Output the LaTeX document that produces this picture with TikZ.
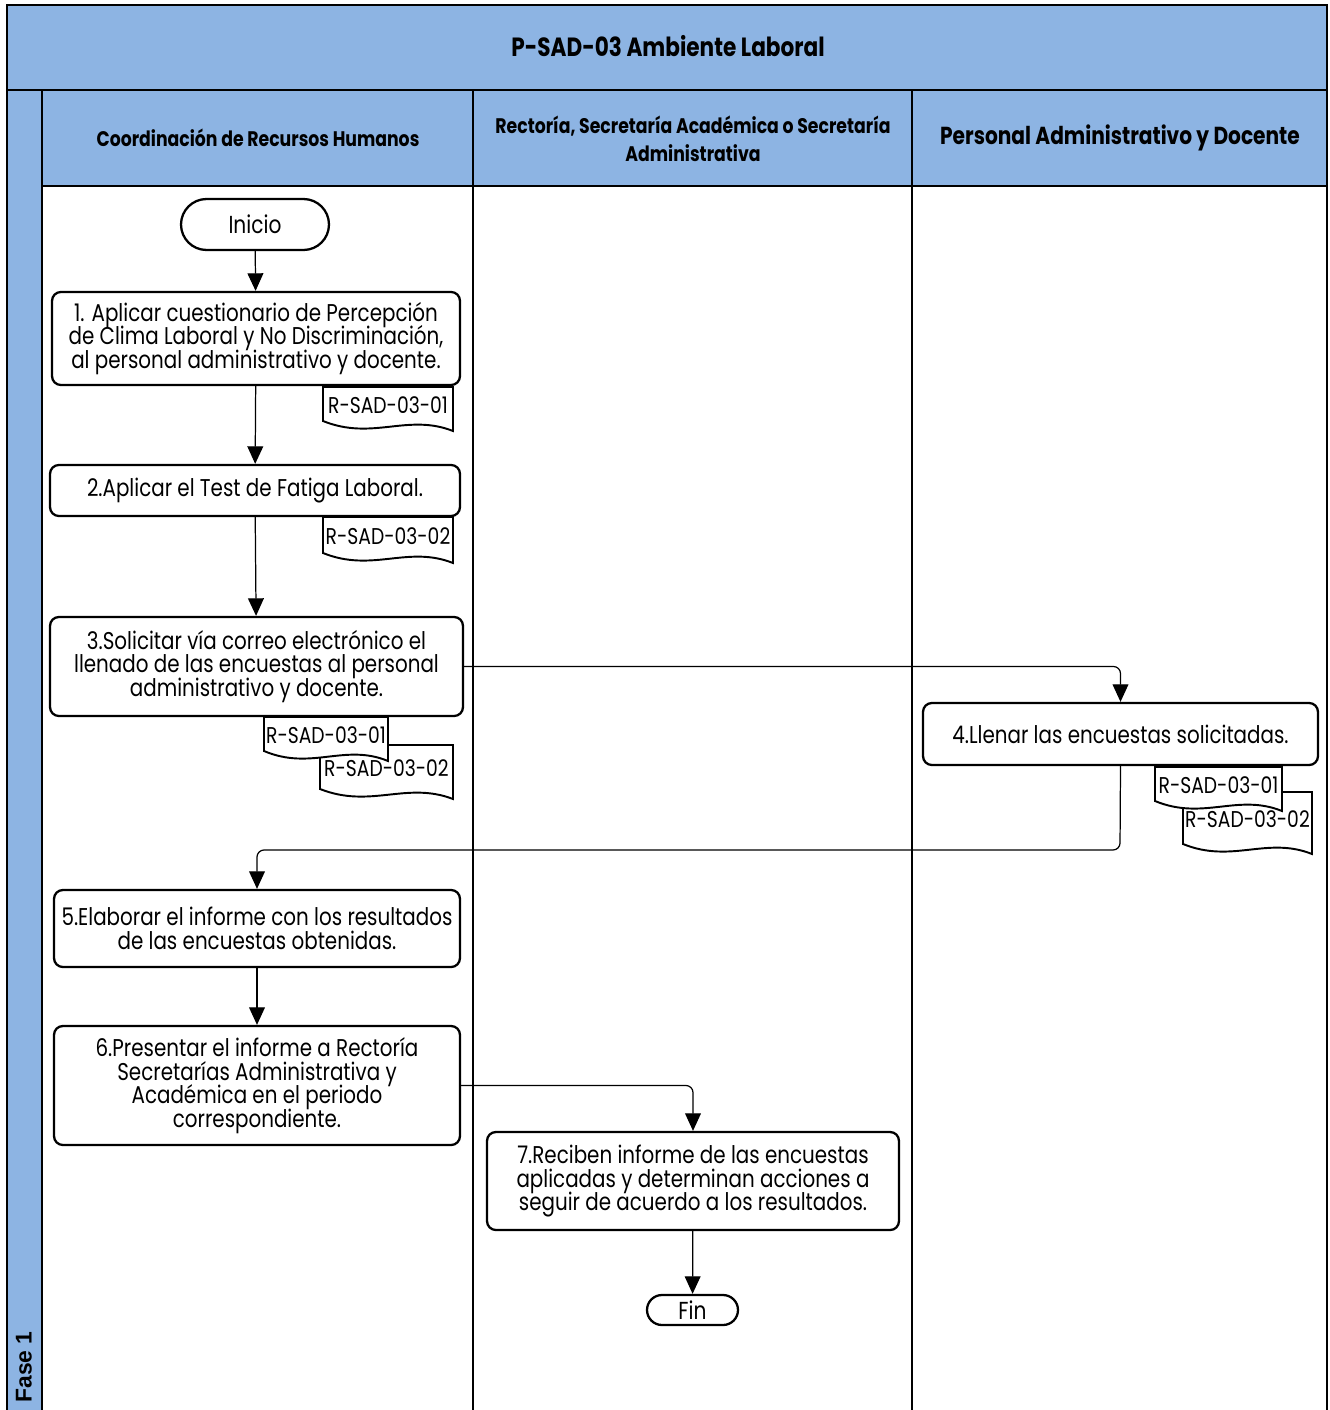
\documentclass[tikz,border=0pt]{standalone}
\usepackage{fontspec}
\setmainfont{Poppins}[FakeStretch=0.82]
\newfontfamily\fasefont{Liberation Sans}
\usetikzlibrary{arrows.meta}
\usetikzlibrary{shapes.misc}
\definecolor{lanehead}{RGB}{141,180,227}
\newcommand{\apretado}{\lineskiplimit=-20pt\relax}

% document symbol with a wavy bottom edge: name, x, y, width, height, text
\newcommand{\registro}[6]{%
  \begin{scope}[shift={(#2,#3)}]
    \draw[doc] (0,0) -- (#4,0) -- (#4,#5) .. controls (0.65*#4,#5-18) and (0.38*#4,#5+10) .. (0,#5-10) -- cycle;
    \node[regtext] (#1) at (0.5*#4,0.5*#5-4) {#6};
  \end{scope}}

\begin{document}
\begin{tikzpicture}[x=0.02cm,y=-0.02cm]
\tikzset{>={Triangle[width=9pt,length=10pt]}}
\tikzstyle{paso}=[draw, rounded corners=5pt, line width=1.3pt, fill=white, align=center, inner sep=0pt, font=\fontsize{13.8}{13.4}\selectfont\apretado]
\tikzstyle{terminal}=[draw, rounded rectangle, line width=1.3pt, fill=white, inner sep=0pt, font=\fontsize{14}{13.4}\selectfont]
\tikzstyle{flujo}=[->, line width=0.7pt, rounded corners=4pt]
\tikzstyle{doc}=[line width=1.1pt, fill=white]
\tikzstyle{regtext}=[inner sep=0pt, font=\fontsize{13}{13}\selectfont]
\tikzstyle{carril}=[draw, line width=1.6pt]

\useasboundingbox (0,0) rectangle (1329,1410);

% swimlanes
\draw[carril, fill=lanehead] (7,5) rectangle (1327,90);
\draw[carril, fill=lanehead] (7,90) rectangle (42,1430);
\draw[carril, fill=lanehead] (42,90) rectangle (473,186);
\draw[carril, fill=lanehead] (473,90) rectangle (912,186);
\draw[carril, fill=lanehead] (912,90) rectangle (1327,186);
\draw[carril] (42,186) rectangle (473,1430);
\draw[carril] (473,186) rectangle (912,1430);
\draw[carril] (912,186) rectangle (1327,1430);

\node[font=\fontsize{15}{15}\bfseries\selectfont] (titulo) at (668,46) {P-SAD-03 Ambiente Laboral};
\node[font=\fontsize{12}{12}\bfseries\selectfont] (rh) at (258,138) {Coordinación de Recursos Humanos};
\node[font=\fontsize{12}{16}\bfseries\selectfont, align=center] (rect) at (693,139) {Rectoría, Secretaría Académica o Secretaría\\Administrativa};
\node[font=\fontsize{14}{14}\bfseries\selectfont] (pers) at (1120,138) {Personal Administrativo y Docente};
\node[rotate=90, font=\fontsize{13}{13}\fasefont\bfseries] (fase) at (24,1367) {Fase 1};

% steps
\node[terminal, minimum width=2.96cm, minimum height=1.02cm] (inicio) at (255,224.5) {Inicio};
\node[paso, minimum width=8.16cm, minimum height=1.86cm] (p1) at (256,338.5) {1. Aplicar cuestionario de Percepción\\de Clima Laboral y No Discriminación,\\al personal administrativo y docente.};
\node[paso, minimum width=8.2cm, minimum height=1.02cm] (p2) at (255,490.5) {2.Aplicar el Test de Fatiga Laboral.};
\node[paso, minimum width=8.26cm, minimum height=1.98cm] (p3) at (256.5,666.5) {3.Solicitar vía correo electrónico el\\llenado de las encuestas al personal\\administrativo y docente.};
\node[paso, minimum width=7.9cm, minimum height=1.24cm] (p4) at (1120.5,734) {4.Llenar las encuestas solicitadas.};
\node[paso, minimum width=8.12cm, minimum height=1.54cm] (p5) at (257,928.5) {5.Elaborar el informe con los resultados\\de las encuestas obtenidas.};
\node[paso, minimum width=8.12cm, minimum height=2.38cm] (p6) at (257,1085.5) {6.Presentar el informe a Rectoría\\Secretarías Administrativa y\\Académica en el periodo\\correspondiente.};
\node[paso, minimum width=8.24cm, minimum height=1.96cm] (p7) at (693,1181) {7.Reciben informe de las encuestas\\aplicadas y determinan acciones a\\seguir de acuerdo a los resultados.};
\node[terminal, minimum width=1.82cm, minimum height=0.6cm] (fin) at (692.5,1310) {Fin};

% records
\registro{r1}{323}{387}{130}{44}{R-SAD-03-01}
\registro{r2}{323}{517}{130}{46}{R-SAD-03-02}
\registro{r3b}{320}{745}{133}{54}{R-SAD-03-02}
\registro{r3a}{264}{717}{124}{44}{R-SAD-03-01}
\registro{r4b}{1183}{792}{129}{62}{R-SAD-03-02}
\registro{r4a}{1155}{767}{127}{44}{R-SAD-03-01}

% flow
\coordinate (giro) at (1120,850);
\draw[flujo] (inicio) -- (p1);
\draw[flujo] (p1) -- (p2);
\draw[flujo] (p2) -- (p3);
\draw[flujo] (p3.east) -| (p4.north);
\draw[flujo] (p4.south) -- (giro) -| (p5.north);
\draw[flujo] (p5) -- (p6);
\draw[flujo] (p6.east) -| (p7.north);
\draw[flujo] (p7) -- (fin);
\end{tikzpicture}
\end{document}
